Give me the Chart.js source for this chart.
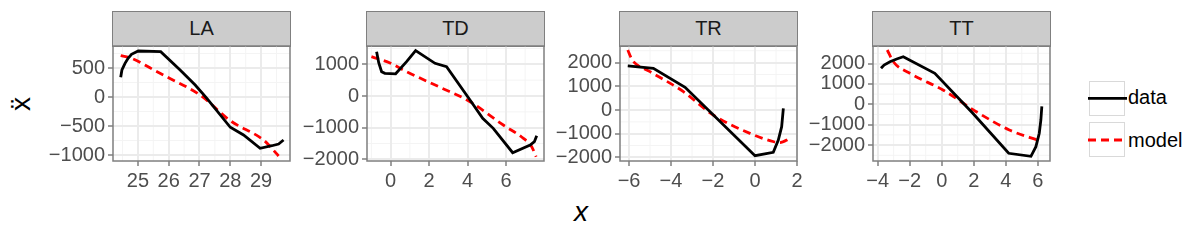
<!DOCTYPE html>
<html>
<head>
<meta charset="utf-8">
<script src="https://cdn.jsdelivr.net/npm/chart.js@4.4.0/dist/chart.umd.min.js"></script>
<style>
  body { margin: 0; width: 1200px; height: 240px; background: #fff; overflow: hidden;
         font-family: "Liberation Sans", Arial, sans-serif; }
  canvas { position: absolute; }
  .strip { position: absolute; top: 11px; height: 36px; background: #cccccc; border: 1.5px solid #7f7f7f;
           box-sizing: border-box; font-size: 20px; color: #1a1a1a; text-align: center; line-height: 33px; }
  .lab { position: absolute; font-size: 20px; color: #000; line-height: 24px; }
  .key { position: absolute; left: 1089px; width: 36px; height: 35px; border: 1.5px solid #d9d9d9; box-sizing: border-box; }
</style>
</head>
<body>
<div class="lab" style="left:1px;top:84px;width:40px;height:40px;line-height:40px;text-align:center;font-size:28px;transform:rotate(-90deg)">ẍ</div>
<div class="lab" style="left:561px;top:196px;width:40px;text-align:center;font-size:28px;line-height:32px;font-style:italic">x</div>

<div class="key" style="top:81px"></div>
<div class="key" style="top:122px"></div>
<svg style="position:absolute;left:1085px;top:90px" width="46" height="60">
  <line x1="3" y1="8.3" x2="42" y2="8.3" stroke="#000" stroke-width="2.8"/>
  <line x1="3" y1="50" x2="42" y2="50" stroke="#ff0000" stroke-width="2.8" stroke-dasharray="8 5"/>
</svg>
<div class="lab" style="left:1128px;top:85px">data</div>
<div class="lab" style="left:1128px;top:128px">model</div>

<script>
// LA
const laDataX = [24.44, 24.48, 24.58, 24.68, 24.79, 25.01, 25.74, 26.37, 26.86, 27.24, 28.0, 28.43, 28.97, 29.35, 29.57, 29.73];
const laDataY = [340, 466, 580, 667, 736, 793, 781, 466, 207, -22, -522, -655, -885, -840, -810, -741];
const laModelX = [24.44, 24.79, 25.5, 25.93, 27.02, 28.0, 29.08, 29.3, 29.57];
const laModelY = [712, 667, 471, 350, 34, -408, -741, -856, -1017];

// TD
const tdDataX = [-0.73, -0.62, -0.47, -0.3, 0.26, 0.83, 1.3, 2.31, 2.91, 4.13, 4.79, 5.34, 6.35, 7.26, 7.48, 7.6];
const tdDataY = [1398, 1050, 767, 716, 700, 1083, 1430, 1031, 925, -126, -704, -1020, -1788, -1546, -1441, -1251];
const tdModelX = [-1.0, 0.0, 0.83, 2.57, 4.13, 5.86, 6.91, 7.34, 7.57];
const tdModelY = [1240, 1031, 767, 274, -179, -915, -1336, -1598, -1914];

// TR
const trDataX = [-6.06, -4.84, -3.33, 0.0, 0.87, 1.11, 1.27, 1.35];
const trDataY = [1857, 1758, 956, -1930, -1786, -1266, -703, 70];
const trModelX = [-6.06, -5.9, -5.79, -5.0, -3.41, -1.99, -0.24, 0.9, 1.19, 1.67];
const trModelY = [2532, 2200, 2040, 1617, 773, -211, -985, -1340, -1378, -1194];

// TT
const ttDataX = [-3.79, -3.6, -3.23, -2.81, -2.4, -0.43, 1.94, 4.18, 5.57, 5.88, 6.09, 6.19, 6.25];
const ttDataY = [1764, 1926, 2087, 2220, 2332, 1519, -441, -2401, -2550, -2078, -1421, -769, -100];
const ttModelX = [-3.4, -3.02, -1.99, 0.08, 2.16, 4.22, 6.09];
const ttModelY = [2661, 2087, 1519, 701, -363, -1259, -1784];

// tick labels
const laXTicks = [25, 26, 27, 28, 29];
const laYTicks = [-1000, -500, 0, 500];
const tdXTicks = [0, 2, 4, 6];
const tdYTicks = [-2000, -1000, 0, 1000];
const trXTicks = [-6, -4, -2, 0, 2];
const trYTicks = [-2000, -1000, 0, 1000, 2000];
const ttXTicks = [-4, -2, 0, 2, 4, 6];
const ttYTicks = [-2000, -1000, 0, 1000, 2000];

const FONT = "'Liberation Sans', Arial, sans-serif";
const PLOT_W = 177, PLOT_H = 115, PLOT_TOP = 46;
const AXIS_W = 80, AXIS_H = 40, PAD_TOP = 20, PAD_RIGHT = 12;

const panels = [
  { name: "LA", left: 113, xr: [24.19, 29.94], yr: [-1103, 879],  dx: laDataX, dy: laDataY, mx: laModelX, my: laModelY, xt: laXTicks, yt: laYTicks },
  { name: "TD", left: 367, xr: [-1.23, 7.98],  yr: [-2050, 1577], dx: tdDataX, dy: tdDataY, mx: tdModelX, my: tdModelY, xt: tdXTicks, yt: tdYTicks },
  { name: "TR", left: 620, xr: [-6.43, 2.0],   yr: [-2152, 2700], dx: trDataX, dy: trDataY, mx: trModelX, my: trModelY, xt: trXTicks, yt: trYTicks },
  { name: "TT", left: 873, xr: [-4.29, 6.76],  yr: [-2780, 2858], dx: ttDataX, dy: ttDataY, mx: ttModelX, my: ttModelY, xt: ttXTicks, yt: ttYTicks }
];

function zip(xs, ys) {
  return xs.map((x, i) => ({ x: x, y: ys[i] }));
}

// minor grid lines halfway between the major ticks
function minors(ticks, lo, hi) {
  const step = ticks[1] - ticks[0];
  const out = [];
  for (let v = ticks[0] - step / 2; v <= hi; v += step) {
    if (v >= lo) out.push(v);
  }
  return out;
}

// R prints negatives with a real minus sign
function fmt(v) {
  return v < 0 ? "\u2212" + Math.abs(v) : String(v);
}

const panelDeco = {
  id: "panelDeco",
  beforeDraw(chart, args, opts) {
    const { ctx, chartArea: a, scales: { x, y } } = chart;
    ctx.save();
    ctx.strokeStyle = "#f4f4f4";
    ctx.lineWidth = 1;
    opts.xMinor.forEach(v => {
      const px = x.getPixelForValue(v);
      ctx.beginPath(); ctx.moveTo(px, a.top); ctx.lineTo(px, a.bottom); ctx.stroke();
    });
    opts.yMinor.forEach(v => {
      const py = y.getPixelForValue(v);
      ctx.beginPath(); ctx.moveTo(a.left, py); ctx.lineTo(a.right, py); ctx.stroke();
    });
    ctx.restore();
  },
  afterDraw(chart) {
    const { ctx, chartArea: a } = chart;
    ctx.save();
    ctx.strokeStyle = "#7f7f7f";
    ctx.lineWidth = 1.5;
    ctx.strokeRect(a.left, a.top, a.right - a.left, a.bottom - a.top);
    ctx.restore();
  }
};

function axis(ticks, range, fit) {
  return {
    type: "linear",
    min: range[0],
    max: range[1],
    afterBuildTicks: s => { s.ticks = ticks.map(v => ({ value: v })); },
    afterFit: fit,
    ticks: { autoSkip: false, maxRotation: 0, padding: 3, color: "#4d4d4d",
             font: { size: 20, family: FONT }, callback: fmt },
    grid: { color: "#ebebeb", lineWidth: 2, tickLength: 5, tickColor: "#7f7f7f", tickWidth: 1.5 },
    border: { display: false }
  };
}

panels.forEach(p => {
  const strip = document.createElement("div");
  strip.className = "strip";
  strip.style.left = (p.left - 1) + "px";
  strip.style.width = (PLOT_W + 2) + "px";
  strip.textContent = p.name;
  document.body.appendChild(strip);

  const canvas = document.createElement("canvas");
  canvas.width = AXIS_W + PLOT_W + PAD_RIGHT;
  canvas.height = PAD_TOP + PLOT_H + AXIS_H;
  canvas.style.left = (p.left - AXIS_W) + "px";
  canvas.style.top = (PLOT_TOP - PAD_TOP) + "px";
  document.body.appendChild(canvas);

  new Chart(canvas, {
    type: "line",
    data: {
      datasets: [
        { label: "data", data: zip(p.dx, p.dy), borderColor: "#000000", borderWidth: 2.8,
          pointRadius: 0, tension: 0 },
        { label: "model", data: zip(p.mx, p.my), borderColor: "#ff0000", borderWidth: 2.8,
          borderDash: [8, 5], pointRadius: 0, cubicInterpolationMode: "monotone" }
      ]
    },
    options: {
      responsive: false,
      animation: false,
      devicePixelRatio: 1,
      layout: { padding: { top: PAD_TOP, right: PAD_RIGHT, left: 0, bottom: 0 } },
      plugins: {
        legend: { display: false },
        tooltip: { enabled: false },
        panelDeco: { xMinor: minors(p.xt, p.xr[0], p.xr[1]), yMinor: minors(p.yt, p.yr[0], p.yr[1]) }
      },
      scales: {
        x: axis(p.xt, p.xr, s => { s.height = AXIS_H; }),
        y: axis(p.yt, p.yr, s => { s.width = AXIS_W; })
      }
    },
    plugins: [panelDeco]
  });
});
</script>
</body>
</html>
